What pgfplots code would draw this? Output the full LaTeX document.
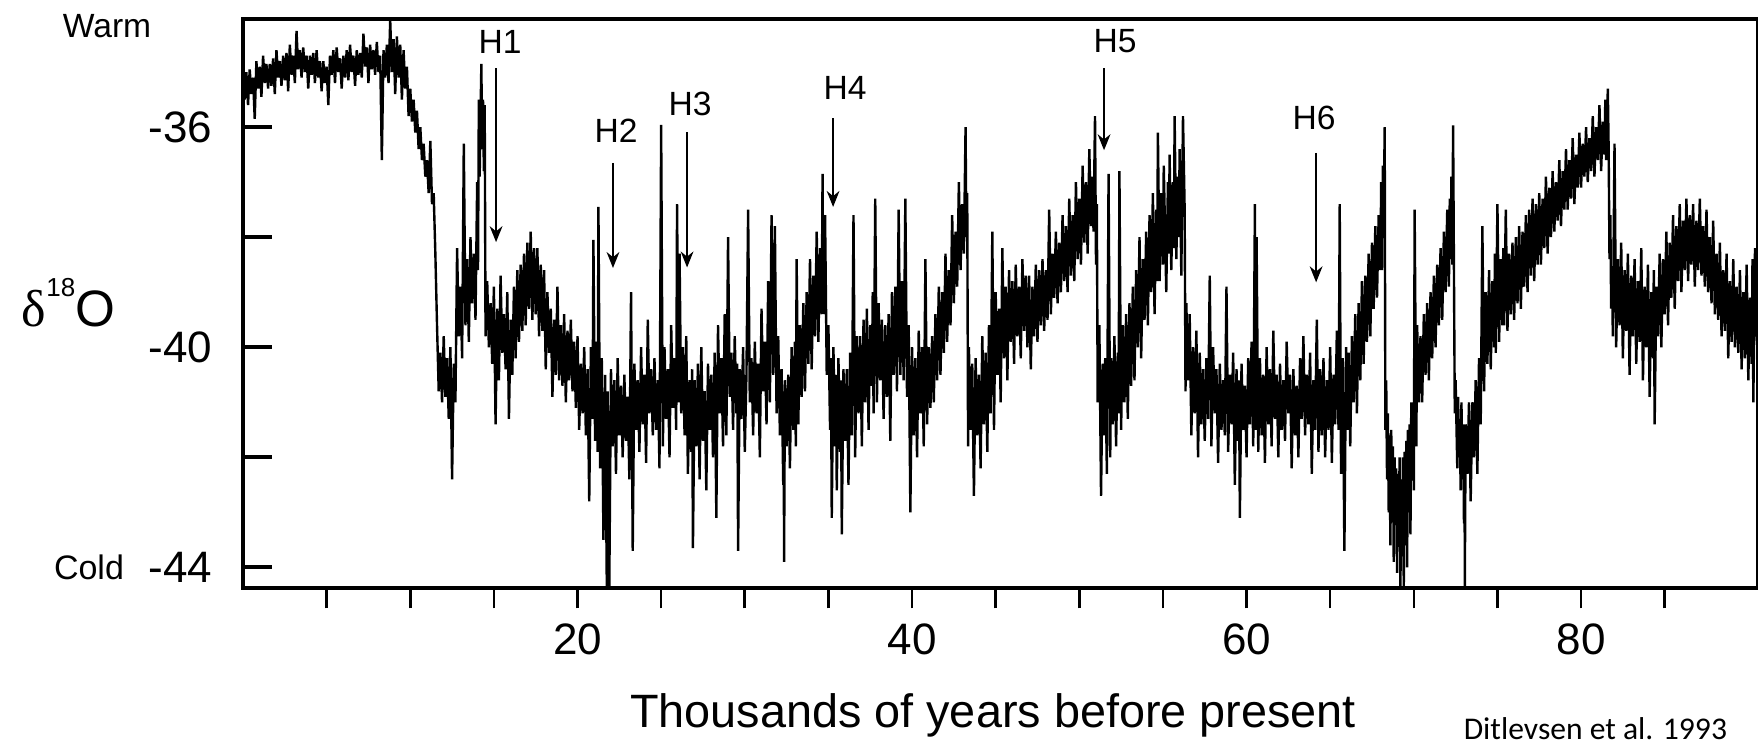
\documentclass[border=0pt]{standalone}
\usepackage{fontspec}
\setmainfont{Liberation Sans}
\newfontfamily\seriffont{Liberation Serif}
\newfontfamily\califont{Carlito}
\usepackage{pgfplots}
\pgfplotsset{compat=1.18}
\usetikzlibrary{arrows.meta}

\begin{document}
\begin{tikzpicture}
\begin{axis}[
  scale only axis,
  width=378.75pt, height=142.25pt,
  xmin=0, xmax=90.58, ymin=-44.38, ymax=-34.04,
  clip=false,
  axis line style={line width=1pt},
  tick align=outside,
  major tick length=5pt,
  xtick pos=bottom,
  xtick={5,10,...,85},
  xticklabels={,,,20,,,,40,,,,60,,,,80,},
  ytick={-44,-40,-36},
  yticklabels={-44,-40,-36},
  xtick style={line width=0.65pt, black},
  ytick style={draw=none},
  tick label style={font=\fontsize{11}{11}\selectfont, inner sep=0pt},
  xticklabel style={anchor=north},
  yticklabel style={anchor=east},
  xticklabel shift=3.75pt,
  yticklabel shift=2.5pt,
]
\addplot[line width=0.6pt, black, line join=bevel] coordinates {
(0.0,-35.05) (0.1,-35.5) (0.2,-35.0) (0.3,-35.6) (0.4,-34.95) (0.5,-35.4) (0.6,-35.1) (0.7,-35.85)
(0.8,-34.8) (0.9,-35.3) (1.0,-34.9) (1.1,-35.45) (1.2,-34.7) (1.3,-35.2) (1.4,-34.85) (1.5,-35.3)
(1.6,-34.85) (1.7,-35.25) (1.8,-34.75) (1.9,-35.4) (2.0,-34.6) (2.1,-35.1) (2.2,-34.8) (2.3,-35.25)
(2.4,-34.7) (2.5,-35.15) (2.6,-34.65) (2.7,-35.35) (2.8,-34.5) (2.9,-35.05) (3.0,-34.7) (3.1,-35.2)
(3.2,-34.25) (3.3,-34.95) (3.4,-34.6) (3.5,-35.1) (3.6,-34.55) (3.7,-35.0) (3.8,-34.7) (3.9,-35.3)
(4.0,-34.7) (4.1,-35.05) (4.2,-34.65) (4.3,-35.2) (4.4,-34.6) (4.5,-35.1) (4.6,-34.8) (4.7,-35.35)
(4.8,-34.8) (4.9,-35.2) (5.0,-34.9) (5.1,-35.6) (5.2,-34.7) (5.3,-35.05) (5.4,-34.6) (5.5,-35.2)
(5.6,-34.55) (5.7,-35.0) (5.8,-34.75) (5.9,-35.3) (6.0,-34.7) (6.1,-35.1) (6.2,-34.6) (6.3,-35.15)
(6.4,-34.5) (6.5,-35.0) (6.6,-34.7) (6.7,-35.25) (6.8,-34.6) (6.9,-35.05) (7.0,-34.65) (7.1,-35.1)
(7.2,-34.3) (7.3,-34.9) (7.4,-34.55) (7.5,-35.2) (7.6,-34.5) (7.7,-34.95) (7.8,-34.6) (7.9,-35.05)
(8.0,-34.45) (8.1,-35.0) (8.2,-34.7) (8.3,-36.6) (8.4,-34.6) (8.5,-35.1) (8.6,-34.5) (8.7,-35.2)
(8.8,-34.05) (8.9,-35.0) (9.0,-34.4) (9.1,-35.4) (9.2,-34.35) (9.3,-35.1) (9.4,-34.5) (9.5,-35.5)
(9.6,-34.6) (9.7,-35.3) (9.8,-34.9) (9.9,-35.8)
(10.0,-35.3) (10.1,-35.9) (10.2,-35.5) (10.3,-36.1) (10.4,-35.7) (10.5,-36.4) (10.6,-36.0) (10.7,-36.6)
(10.8,-36.3) (10.9,-36.9) (11.0,-36.6) (11.1,-37.2) (11.2,-36.25) (11.3,-37.4) (11.4,-37.2) (11.5,-38.3)
(11.6,-39.6) (11.7,-40.8) (11.8,-40.1) (11.9,-41.0) (12.0,-39.8) (12.1,-40.9) (12.2,-40.2) (12.3,-41.3)
(12.4,-40.0) (12.5,-42.4) (12.6,-40.3) (12.7,-41.0)
(12.8,-38.2) (12.9,-39.8) (13.0,-38.9) (13.1,-40.2) (13.2,-36.3) (13.3,-39.6) (13.4,-38.4) (13.5,-39.9)
(13.6,-38.0) (13.7,-39.2) (13.8,-38.3) (13.9,-39.5) (14.0,-37.0) (14.05,-38.6) (14.1,-35.5) (14.15,-36.9)
(14.2,-35.8) (14.25,-34.85) (14.3,-36.4) (14.35,-35.5) (14.4,-36.8) (14.45,-35.6) (14.5,-39.8)
(14.6,-38.8) (14.7,-40.0) (14.8,-39.2) (14.9,-40.3) (15.0,-38.9) (15.1,-41.4) (15.2,-39.3) (15.3,-40.6)
(15.4,-38.7) (15.5,-40.1) (15.6,-39.4) (15.7,-40.4) (15.8,-39.0) (15.9,-41.3) (16.0,-39.5) (16.1,-40.5)
(16.2,-38.9) (16.3,-40.2) (16.4,-38.6) (16.5,-39.9) (16.6,-38.5) (16.7,-39.7) (16.8,-38.3) (16.9,-39.6)
(17.0,-38.1) (17.1,-39.3) (17.2,-37.9) (17.3,-39.5) (17.4,-38.2) (17.5,-39.4) (17.6,-38.2) (17.7,-39.8)
(17.8,-38.5) (17.9,-39.7) (18.0,-38.6) (18.1,-40.4) (18.2,-39.0) (18.3,-40.1) (18.4,-39.3) (18.5,-40.9)
(18.6,-39.5) (18.7,-40.5) (18.8,-38.9) (18.9,-40.6) (19.0,-39.6) (19.1,-40.7) (19.2,-39.4) (19.3,-41.0)
(19.4,-39.7) (19.5,-40.6) (19.6,-39.5) (19.7,-40.8) (19.8,-39.9) (19.9,-41.1) (20.0,-39.8) (20.1,-41.5)
(20.2,-40.3) (20.3,-41.2) (20.4,-40.0) (20.5,-41.6) (20.6,-40.4) (20.7,-42.8) (20.8,-40.0) (20.9,-41.3)
(20.95,-38.05) (21.05,-41.7) (21.15,-39.9) (21.2,-41.9) (21.25,-37.45) (21.35,-42.2) (21.45,-40.2) (21.55,-43.5)
(21.65,-40.5) (21.75,-44.35) (21.8,-40.8) (21.9,-44.35) (22.0,-40.4) (22.1,-41.8) (22.2,-40.6) (22.3,-42.3)
(22.4,-40.2) (22.5,-41.6) (22.6,-40.7) (22.7,-42.0) (22.8,-40.5) (22.9,-41.7) (23.0,-40.9) (23.1,-42.4)
(23.2,-39.0) (23.3,-43.7) (23.4,-40.3) (23.5,-41.5) (23.6,-40.6) (23.7,-41.9) (23.8,-40.0) (23.9,-41.4)
(24.0,-40.5) (24.1,-42.1) (24.2,-39.5) (24.3,-41.2) (24.4,-40.4) (24.5,-41.6) (24.6,-40.2) (24.7,-41.5)
(24.8,-40.6) (24.9,-42.2) (25.0,-35.96) (25.1,-41.8) (25.2,-40.0) (25.3,-41.3) (25.4,-40.4) (25.5,-42.0)
(25.6,-39.6) (25.7,-41.1) (25.8,-40.2) (25.9,-41.5) (25.95,-37.4) (26.05,-41.0) (26.1,-38.3) (26.2,-41.2)
(26.3,-40.0) (26.4,-41.6) (26.5,-39.8) (26.6,-42.3) (26.7,-40.6) (26.8,-41.9) (26.85,-40.4) (26.9,-43.65)
(27.0,-40.6) (27.1,-41.8) (27.2,-40.3) (27.3,-42.4) (27.4,-40.0) (27.5,-41.7) (27.6,-40.8) (27.7,-42.6)
(27.8,-40.3) (27.9,-41.5) (28.0,-40.5) (28.1,-42.0) (28.2,-40.1) (28.3,-43.1) (28.4,-39.6) (28.5,-41.2)
(28.6,-40.2) (28.7,-41.8) (28.8,-39.4) (28.9,-41.6) (29.0,-38.0) (29.1,-40.9) (29.2,-40.1) (29.3,-41.5)
(29.4,-39.8) (29.5,-41.2) (29.55,-40.3) (29.6,-43.7) (29.7,-40.4) (29.8,-41.3) (29.9,-40.0) (30.0,-41.9)
(30.1,-40.5) (30.2,-37.5) (30.3,-41.0) (30.4,-40.2) (30.5,-41.6) (30.6,-39.9) (30.7,-41.2) (30.8,-40.3)
(30.9,-42.0) (31.0,-39.3) (31.1,-40.8) (31.2,-39.9) (31.3,-41.4) (31.4,-38.8) (31.5,-41.0) (31.6,-37.6)
(31.7,-40.5) (31.8,-37.8) (31.9,-41.2) (32.0,-39.8) (32.1,-41.6) (32.2,-40.4) (32.3,-42.5) (32.32,-40.8)
(32.35,-43.9) (32.4,-40.6) (32.5,-41.8) (32.6,-40.5) (32.7,-42.2) (32.8,-40.0) (32.9,-41.5) (33.0,-39.9)
(33.05,-41.8) (33.1,-38.4) (33.2,-41.4) (33.3,-39.6) (33.4,-40.9) (33.5,-39.2) (33.6,-40.8) (33.7,-39.0)
(33.8,-40.3) (33.9,-38.4) (34.0,-40.4) (34.1,-38.7) (34.2,-39.8) (34.3,-37.9) (34.4,-39.9) (34.5,-38.2)
(34.6,-39.4) (34.65,-36.85) (34.7,-39.4) (34.8,-37.6) (34.9,-40.5) (35.0,-39.6) (35.1,-41.5) (35.15,-40.2)
(35.2,-43.1) (35.3,-40.0) (35.4,-41.8) (35.45,-40.5) (35.5,-42.6) (35.6,-40.2) (35.7,-41.9) (35.75,-40.6)
(35.8,-43.4) (35.9,-40.4) (36.0,-41.7) (36.1,-40.4) (36.2,-42.5) (36.3,-40.1) (36.4,-41.6) (36.5,-37.6)
(36.6,-42.0) (36.7,-39.8) (36.8,-41.2) (36.9,-39.8) (37.0,-41.8) (37.1,-39.5) (37.2,-41.0) (37.3,-39.3)
(37.4,-41.5) (37.5,-39.6) (37.6,-40.7) (37.65,-39.0) (37.7,-41.2) (37.8,-37.3) (37.9,-41.0) (38.0,-39.2)
(38.1,-40.6) (38.2,-39.5) (38.3,-41.3) (38.4,-39.6) (38.5,-40.9) (38.6,-39.4) (38.7,-41.7) (38.8,-39.0)
(38.9,-40.5) (39.0,-38.9) (39.1,-40.8) (39.2,-37.5) (39.3,-40.5) (39.4,-38.8) (39.5,-40.6) (39.6,-37.3)
(39.7,-40.9) (39.8,-39.6) (39.9,-43.0) (40.0,-40.0) (40.1,-41.6) (40.2,-40.2) (40.3,-42.0) (40.4,-39.7)
(40.5,-41.2) (40.6,-40.0) (40.7,-41.8) (40.8,-38.4) (40.9,-41.4) (41.0,-40.0) (41.1,-41.1) (41.2,-39.8)
(41.3,-41.0) (41.4,-39.4) (41.5,-40.6) (41.6,-38.9) (41.7,-40.5) (41.8,-39.0) (41.9,-40.1) (42.0,-38.3)
(42.1,-39.9) (42.2,-38.6) (42.3,-39.6) (42.4,-37.6) (42.5,-39.2) (42.6,-37.9) (42.7,-38.9) (42.8,-37.0)
(42.9,-38.6) (43.0,-37.4) (43.1,-38.3) (43.2,-36.0) (43.25,-38.0) (43.3,-37.2) (43.35,-41.8) (43.4,-40.0)
(43.5,-41.5) (43.6,-40.3) (43.7,-42.7) (43.8,-40.2) (43.9,-41.6) (44.0,-40.5) (44.1,-42.2) (44.2,-39.8)
(44.3,-41.4) (44.4,-40.1) (44.5,-41.9) (44.6,-39.6) (44.7,-41.2) (44.8,-37.9) (44.9,-41.5) (45.0,-39.0)
(45.1,-40.5) (45.2,-39.3) (45.3,-41.0) (45.4,-38.2) (45.5,-40.2) (45.6,-38.9) (45.7,-40.6) (45.8,-38.6)
(45.9,-39.9) (46.0,-38.8) (46.1,-40.3) (46.2,-38.5) (46.3,-39.8) (46.4,-38.9) (46.5,-40.2) (46.6,-38.4)
(46.7,-39.7) (46.8,-38.7) (46.9,-40.0) (47.0,-38.7) (47.1,-40.4) (47.2,-38.9) (47.3,-39.8) (47.4,-38.5)
(47.5,-39.9) (47.6,-38.6) (47.7,-39.6) (47.8,-38.4) (47.9,-39.7) (48.0,-38.6) (48.1,-39.5) (48.2,-37.5)
(48.3,-39.4) (48.4,-38.3) (48.5,-39.1) (48.6,-37.9) (48.7,-39.2) (48.8,-38.1) (48.9,-39.0) (49.0,-37.6)
(49.1,-38.8) (49.2,-37.8) (49.3,-39.0) (49.4,-37.3) (49.5,-38.7) (49.6,-37.6) (49.7,-38.8) (49.8,-37.0)
(49.9,-38.4) (50.0,-37.3) (50.1,-38.5) (50.2,-36.7) (50.3,-38.1) (50.4,-37.0) (50.5,-38.3) (50.6,-36.4)
(50.7,-37.8) (50.8,-36.9) (50.85,-37.9) (50.94,-35.8) (51.0,-38.5) (51.05,-37.4) (51.1,-41.0) (51.2,-39.6)
(51.3,-42.7) (51.4,-40.3) (51.5,-41.6) (51.55,-40.2) (51.65,-42.3) (51.75,-36.85) (51.85,-42.0) (51.9,-40.2)
(52.0,-41.4) (52.1,-39.8) (52.2,-41.8) (52.3,-40.1) (52.35,-41.2) (52.4,-36.8) (52.5,-41.5) (52.6,-39.6)
(52.7,-41.0) (52.8,-39.4) (52.9,-41.3) (53.0,-39.2) (53.1,-40.7) (53.2,-38.9) (53.3,-40.6) (53.4,-38.6)
(53.5,-40.0) (53.6,-38.0) (53.7,-40.2) (53.8,-38.4) (53.9,-39.5) (54.0,-37.9) (54.1,-39.6) (54.2,-37.6)
(54.3,-39.0) (54.4,-37.2) (54.5,-39.4) (54.6,-37.5) (54.65,-38.8) (54.7,-36.1) (54.8,-38.8) (54.9,-37.2)
(55.0,-38.5) (55.05,-36.7) (55.2,-39.0) (55.3,-37.0) (55.35,-38.3) (55.4,-36.5) (55.5,-38.6) (55.6,-37.0)
(55.65,-38.2) (55.7,-35.8) (55.8,-38.4) (55.9,-36.9) (55.95,-38.0) (56.0,-36.4) (56.1,-38.7) (56.2,-35.8)
(56.3,-37.5) (56.35,-40.8) (56.4,-39.2) (56.5,-40.6) (56.6,-39.4) (56.7,-41.6) (56.8,-40.0) (56.9,-41.2)
(57.0,-39.7) (57.1,-42.0) (57.2,-40.1) (57.3,-41.4) (57.4,-40.4) (57.5,-41.7) (57.6,-40.2) (57.7,-41.3)
(57.8,-38.7) (57.9,-41.8) (58.0,-40.0) (58.1,-41.2) (58.2,-40.4) (58.3,-42.1) (58.4,-40.3) (58.5,-41.5)
(58.6,-40.6) (58.7,-41.6) (58.8,-38.9) (58.9,-41.9) (59.0,-40.5) (59.1,-41.4) (59.2,-40.1) (59.3,-42.5)
(59.4,-40.4) (59.5,-41.7) (59.55,-40.6) (59.6,-43.1) (59.7,-40.3) (59.8,-41.5) (59.9,-40.7) (60.0,-42.0)
(60.1,-40.2) (60.2,-41.4) (60.3,-39.9) (60.4,-41.8) (60.5,-37.4) (60.55,-41.5) (60.6,-38.0) (60.7,-41.9)
(60.8,-40.2) (60.9,-41.6) (61.0,-40.5) (61.1,-42.1) (61.2,-40.0) (61.3,-41.4) (61.4,-40.4) (61.5,-41.8)
(61.6,-39.7) (61.7,-41.3) (61.8,-40.5) (61.9,-42.0) (62.0,-40.3) (62.1,-41.5) (62.2,-40.6) (62.3,-41.7)
(62.4,-39.9) (62.5,-41.2) (62.6,-40.5) (62.7,-42.2) (62.8,-40.4) (62.9,-41.6) (63.0,-40.7) (63.1,-42.0)
(63.2,-40.2) (63.3,-41.3) (63.4,-39.8) (63.5,-41.6) (63.6,-40.5) (63.7,-41.4) (63.8,-40.1) (63.9,-42.3)
(64.0,-40.6) (64.1,-41.5) (64.2,-39.5) (64.3,-41.9) (64.4,-40.4) (64.5,-41.6) (64.6,-40.2) (64.7,-42.0)
(64.8,-40.6) (64.9,-41.5) (65.0,-40.0) (65.1,-42.1) (65.2,-40.5) (65.3,-41.4) (65.4,-39.7) (65.5,-41.5)
(65.57,-37.4) (65.65,-42.3) (65.75,-40.2) (65.85,-43.7) (65.95,-40.0) (66.05,-41.5) (66.1,-40.1) (66.2,-41.8)
(66.3,-39.8) (66.4,-41.0) (66.5,-39.4) (66.6,-41.2) (66.7,-39.2) (66.8,-40.6) (66.9,-38.8) (67.0,-40.3)
(67.1,-38.7) (67.2,-39.9) (67.3,-38.3) (67.4,-39.8) (67.5,-38.1) (67.6,-39.3) (67.7,-37.8) (67.8,-39.1)
(67.9,-37.6) (68.0,-38.6) (68.05,-37.0) (68.1,-38.6) (68.15,-36.7) (68.2,-37.6) (68.26,-36.0) (68.3,-41.5)
(68.35,-40.6) (68.4,-42.4) (68.45,-41.2) (68.5,-43.0) (68.55,-41.6) (68.6,-43.6) (68.65,-41.5) (68.7,-42.8)
(68.75,-41.8) (68.8,-43.9) (68.85,-42.0) (68.9,-43.2) (68.95,-42.2) (69.0,-44.1) (69.05,-42.3) (69.1,-43.5)
(69.15,-42.0) (69.2,-44.35) (69.25,-42.4) (69.3,-43.8) (69.35,-42.0) (69.4,-44.35) (69.45,-41.9) (69.5,-43.6)
(69.55,-41.7) (69.6,-44.0) (69.65,-41.5) (69.7,-43.0) (69.75,-41.4) (69.8,-43.4) (69.85,-41.0) (69.9,-42.3)
(69.95,-41.2) (70.0,-42.6) (70.05,-37.5) (70.15,-41.8) (70.2,-39.6) (70.3,-41.0) (70.4,-39.8) (70.5,-41.0)
(70.6,-39.4) (70.7,-40.5) (70.8,-39.2) (70.9,-40.6) (71.0,-39.0) (71.1,-40.2) (71.2,-38.7) (71.3,-40.0)
(71.4,-38.5) (71.5,-39.6) (71.6,-38.2) (71.7,-39.5) (71.8,-37.9) (71.9,-39.0) (72.0,-37.5) (72.1,-38.9)
(72.15,-37.3) (72.2,-38.4) (72.25,-36.9) (72.3,-38.5) (72.35,-35.97) (72.45,-41.2) (72.5,-40.6) (72.6,-42.2)
(72.65,-40.9) (72.7,-42.0) (72.75,-41.3) (72.8,-42.6) (72.85,-41.0) (72.9,-42.4) (72.95,-41.4) (73.0,-43.2)
(73.03,-41.6) (73.05,-44.35) (73.1,-41.4) (73.2,-42.3) (73.3,-41.0) (73.4,-42.8) (73.5,-41.0) (73.6,-42.0)
(73.7,-40.6) (73.8,-42.3) (73.9,-40.2) (74.0,-41.4) (74.1,-37.8) (74.2,-40.8) (74.3,-39.0) (74.4,-40.3)
(74.5,-38.6) (74.6,-40.4) (74.7,-38.8) (74.8,-40.0) (74.85,-38.3) (74.9,-40.1) (75.0,-37.4) (75.1,-39.9)
(75.2,-38.4) (75.3,-39.6) (75.35,-38.2) (75.4,-39.6) (75.5,-37.5) (75.6,-39.7) (75.7,-38.3) (75.8,-39.4)
(75.9,-38.1) (76.0,-39.5) (76.1,-38.0) (76.2,-39.2) (76.3,-37.8) (76.4,-39.3) (76.5,-37.9) (76.6,-38.9)
(76.7,-37.6) (76.8,-39.0) (76.9,-37.5) (77.0,-38.7) (77.1,-37.3) (77.2,-38.8) (77.3,-37.4) (77.4,-38.5)
(77.5,-37.2) (77.6,-38.5) (77.7,-37.3) (77.8,-38.2) (77.9,-36.9) (78.0,-38.3) (78.1,-37.1) (78.2,-38.0)
(78.3,-36.8) (78.4,-37.9) (78.5,-37.0) (78.6,-37.7) (78.7,-36.6) (78.8,-37.8) (78.9,-36.8) (79.0,-37.5)
(79.1,-36.4) (79.2,-37.5) (79.3,-36.6) (79.4,-37.3) (79.5,-36.2) (79.6,-37.4) (79.7,-36.5) (79.8,-37.1)
(79.9,-36.1) (80.0,-37.1) (80.1,-36.3) (80.2,-36.9) (80.3,-36.0) (80.4,-37.0) (80.5,-36.2) (80.6,-36.8)
(80.7,-35.8) (80.8,-36.9) (80.9,-36.0) (81.0,-36.6) (81.1,-35.6) (81.2,-36.8) (81.3,-35.9) (81.4,-36.5)
(81.45,-35.5) (81.5,-36.6) (81.6,-35.3) (81.65,-36.4) (81.7,-38.4) (81.75,-37.6) (81.8,-39.3) (81.85,-38.6)
(81.9,-39.8) (82.0,-36.3) (82.1,-40.0) (82.2,-38.4) (82.3,-39.6) (82.4,-38.1) (82.5,-40.2) (82.6,-38.6)
(82.7,-39.7) (82.8,-38.3) (82.9,-40.5) (83.0,-38.7) (83.1,-39.8) (83.2,-38.4) (83.3,-40.3) (83.4,-38.8)
(83.5,-39.9) (83.6,-38.2) (83.7,-40.6) (83.8,-38.9) (83.9,-40.0) (84.0,-38.5) (84.1,-40.9) (84.2,-39.0)
(84.3,-40.2) (84.35,-38.6) (84.4,-41.4) (84.5,-38.9) (84.6,-39.8) (84.7,-38.3) (84.8,-40.0) (84.9,-38.4)
(85.0,-39.4) (85.1,-37.9) (85.2,-39.6) (85.3,-38.1) (85.4,-39.1) (85.5,-37.6) (85.6,-39.3) (85.7,-37.8)
(85.8,-38.8) (85.9,-37.4) (86.0,-39.0) (86.1,-37.7) (86.2,-38.6) (86.3,-37.3) (86.4,-38.8) (86.5,-37.6)
(86.6,-38.5) (86.7,-37.4) (86.8,-38.9) (86.9,-37.7) (87.0,-38.6) (87.1,-37.3) (87.2,-38.7) (87.3,-37.8)
(87.4,-38.9) (87.5,-37.5) (87.6,-39.0) (87.7,-38.0) (87.8,-39.2) (87.9,-37.7) (88.0,-39.4) (88.1,-38.3)
(88.2,-39.5) (88.3,-38.1) (88.4,-39.8) (88.5,-38.6) (88.6,-39.7) (88.7,-38.3) (88.8,-40.2) (88.9,-38.8)
(89.0,-39.9) (89.1,-38.4) (89.2,-40.0) (89.3,-38.9) (89.4,-40.1) (89.5,-38.6) (89.6,-40.4) (89.7,-39.0)
(89.8,-40.2) (89.9,-38.5) (90.0,-40.6) (90.1,-39.1) (90.2,-40.3) (90.25,-38.4) (90.3,-41.0) (90.4,-38.2)
(90.5,-39.8) (90.58,-40.2)
};
% inward y ticks
\pgfplotsinvokeforeach{-44,-42,-40,-38,-36}{
  \draw[line width=1pt] (axis cs:0,#1) -- ([xshift=7.25pt]axis cs:0,#1);
}
% Heinrich event arrows
\begin{scope}[line width=0.4pt, -{Stealth[length=4pt,width=3.2pt]}]
\draw (axis cs:15.13,-34.93) -- (axis cs:15.13,-38.09);
\draw (axis cs:22.12,-36.65) -- (axis cs:22.12,-38.56);
\draw (axis cs:26.55,-36.09) -- (axis cs:26.55,-38.55);
\draw (axis cs:35.28,-35.84) -- (axis cs:35.28,-37.45);
\draw (axis cs:51.48,-34.93) -- (axis cs:51.48,-36.42);
\draw (axis cs:64.16,-36.47) -- (axis cs:64.16,-38.82);
\end{scope}
\begin{scope}[every node/.style={inner sep=0pt, font=\fontsize{8.4}{8.4}\selectfont}]
\node at (axis cs:15.37,-34.45) {H1};
\node at (axis cs:22.30,-36.07) {H2};
\node at (axis cs:26.73,-35.58) {H3};
\node at (axis cs:36.00,-35.29) {H4};
\node at (axis cs:52.14,-34.44) {H5};
\node at (axis cs:64.04,-35.84) {H6};
\end{scope}
% outer labels
\node[inner sep=0pt, font=\fontsize{8.4}{8.4}\selectfont] at (axis cs:-8.13,-34.17) {Warm};
\node[inner sep=0pt, font=\fontsize{8.5}{8.5}\selectfont] at (axis cs:-9.21,-44.0) {Cold};
\node[inner sep=0pt, anchor=base west] at (axis cs:-13.27,-39.62)
  {{\seriffont\fontsize{13}{13}\selectfont δ}\raisebox{7.5pt}{\fontsize{6.5}{6.5}\selectfont 18}{\fontsize{12.8}{12.8}\selectfont O}};
\node[inner sep=0pt, anchor=base, font=\fontsize{11.7}{11.7}\selectfont] at (axis cs:44.84,-46.91) {Thousands of years before present};
\node[inner sep=0pt, anchor=base west, font=\califont\fontsize{7.9}{7.9}\selectfont] at (axis cs:72.94,-47.13) {Ditlevsen et al. 1993};
\coordinate (BL) at (axis cs:-14.53,-47.2);
\coordinate (TR) at (axis cs:90.58,-33.69);
\end{axis}
\pgfresetboundingbox
\path[use as bounding box] (BL) rectangle (TR);
\end{tikzpicture}
\end{document}
